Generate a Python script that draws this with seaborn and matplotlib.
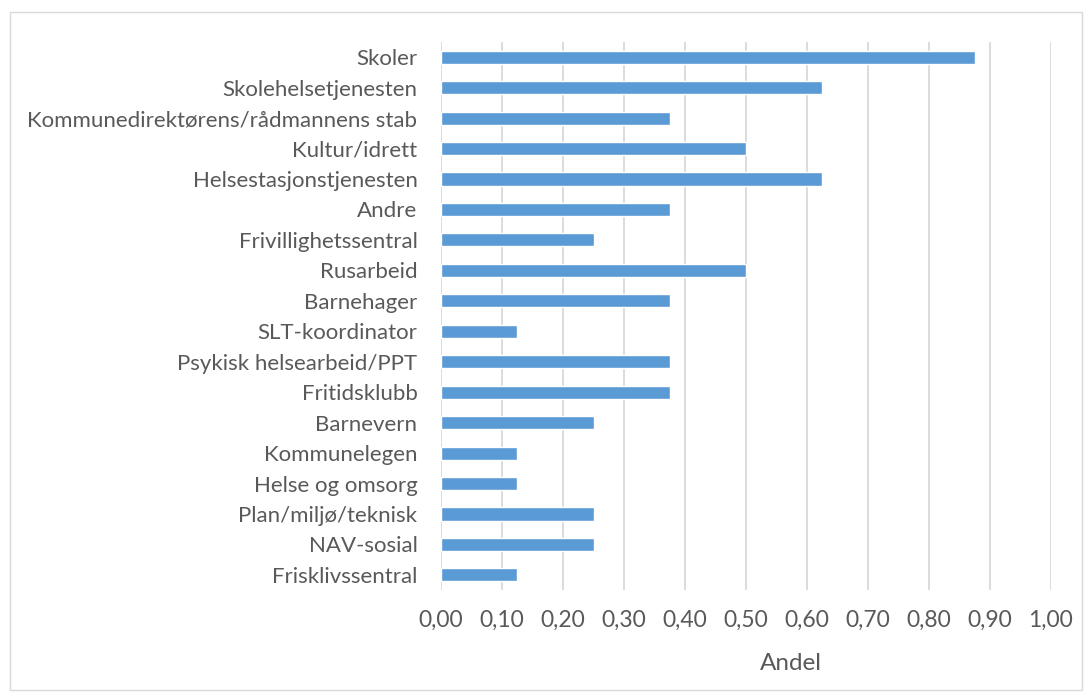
import matplotlib
matplotlib.use("Agg")
import matplotlib.pyplot as plt
import matplotlib.patches as mpatches
import seaborn as sns
import pandas as pd

categories = [
    "Skoler", "Skolehelsetjenesten", "Kommunedirektørens/rådmannens stab",
    "Kultur/idrett", "Helsestasjonstjenesten", "Andre", "Frivillighetssentral",
    "Rusarbeid", "Barnehager", "SLT-koordinator", "Psykisk helsearbeid/PPT",
    "Fritidsklubb", "Barnevern", "Kommunelegen", "Helse og omsorg",
    "Plan/miljø/teknisk", "NAV-sosial", "Frisklivssentral",
]
andel = [0.875, 0.625, 0.375, 0.5, 0.625, 0.375, 0.25, 0.5, 0.375, 0.125,
         0.375, 0.375, 0.25, 0.125, 0.125, 0.25, 0.25, 0.125]
x_ticks = [0.0, 0.1, 0.2, 0.3, 0.4, 0.5, 0.6, 0.7, 0.8, 0.9, 1.0]

df = pd.DataFrame({"Kategori": categories, "Andel": andel})

sns.set_theme(style="white")
plt.rcParams["font.family"] = ["Lato", "DejaVu Sans"]

text_color = "#595959"
fig = plt.figure(figsize=(10.9, 7.0), dpi=100)
ax = fig.add_axes([0.4046, 0.157, 0.5596, 0.783])

sns.barplot(data=df, x="Andel", y="Kategori", color="#5B9BD5", saturation=1,
            width=0.43, ax=ax, zorder=3)

ax.set_xlim(0, 1.0)
ax.set_ylim(len(categories) - 0.5, -0.5)
ax.set_xticks(x_ticks)
ax.set_xticklabels([f"{v:.2f}".replace(".", ",") for v in x_ticks])
ax.grid(axis="x", color="#D9D9D9", linewidth=1.3, zorder=0)
ax.grid(axis="y", visible=False)
for s in ax.spines.values():
    s.set_visible(False)
ax.tick_params(axis="y", length=0, labelsize=16, colors=text_color, pad=17)
ax.tick_params(axis="x", length=0, labelsize=16.5, colors=text_color, pad=14)
ax.set_ylabel("")
ax.set_xlabel("Andel", fontsize=17.5, color=text_color, labelpad=13)
ax.xaxis.set_label_coords(0.574, -0.115)

border = mpatches.Rectangle((10 / 1090, 10 / 700), 1072 / 1090, 678 / 700,
                            transform=fig.transFigure, fill=False,
                            edgecolor="#D9D9D9", linewidth=1.0)
fig.patches.append(border)

fig.savefig("out.png", dpi=100)
